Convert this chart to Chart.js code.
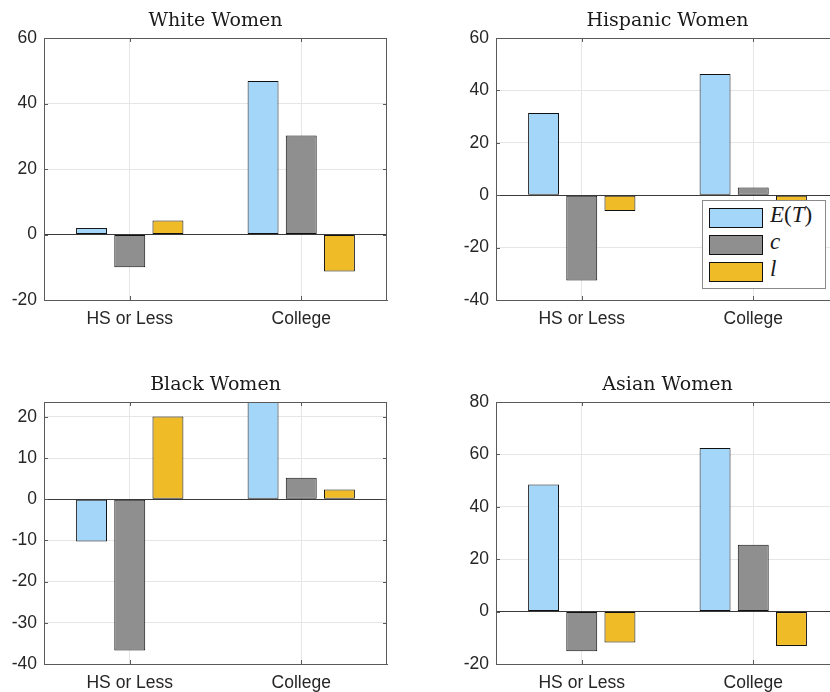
<!DOCTYPE html>
<html>
<head>
<meta charset="utf-8">
<script src="https://cdn.jsdelivr.net/npm/chart.js@4.4.1/dist/chart.umd.min.js"></script>
<style>
  html, body { margin: 0; padding: 0; background: #fff; width: 830px; height: 692px; overflow: hidden; }
  .panel { position: absolute; width: 415px; height: 340px; }
  .panel canvas { width: 415px; height: 340px; }
  #legend { position: absolute; left: 702px; top: 200px; width: 124px; height: 89px;
    border: 1px solid #8a8a8a; background: #fff; box-sizing: border-box; }
  .li { position: absolute; left: 6px; height: 20px; width: 120px; }
  .sw { position: absolute; left: 0; top: 0; width: 54px; height: 20px; border: 1px solid #111; box-sizing: border-box; }
  .lt { position: absolute; left: 61px; top: -6px; font-family: "Liberation Serif", serif; font-size: 23px; color: #1a1a1a; white-space: nowrap; }
</style>
</head>
<body>
<div class="panel" style="left:0px;top:0px"><canvas id="c1" width="415" height="340"></canvas></div>
<div class="panel" style="left:452px;top:0px"><canvas id="c2" width="415" height="340"></canvas></div>
<div class="panel" style="left:0px;top:364px"><canvas id="c3" width="415" height="340"></canvas></div>
<div class="panel" style="left:452px;top:364px"><canvas id="c4" width="415" height="340"></canvas></div>
<div id="legend">
  <div class="li" style="top:7px"><div class="sw" style="background:#A3D6F8"></div><div class="lt"><i>E</i>(<i>T</i>)</div></div>
  <div class="li" style="top:34px"><div class="sw" style="background:#8F8F8F"></div><div class="lt"><i>c</i></div></div>
  <div class="li" style="top:61px"><div class="sw" style="background:#EFBB27"></div><div class="lt"><i>l</i></div></div>
</div>
<script>
// ---- data ----
const categories = ['HS or Less', 'College'];
const seriesNames = ['E(T)', 'c', 'l'];
const seriesColors = ['#A3D6F8', '#8F8F8F', '#EFBB27'];

const whiteET = [2.0, 46.9];
const whiteC  = [-10.0, 30.2];
const whiteL  = [4.3, -11.3];
const whiteTicks = [-20, 0, 20, 40, 60];

const hispET = [31.4, 46.3];
const hispC  = [-32.6, 2.9];
const hispL  = [-6.0, -4.0];
const hispTicks = [-40, -20, 0, 20, 40, 60];

const blackET = [-10.25, 23.6];
const blackC  = [-36.7, 5.2];
const blackL  = [20.1, 2.35];
const blackTicks = [-40, -30, -20, -10, 0, 10, 20];
const blackMax = 23.6;

const asianET = [48.5, 62.4];
const asianC  = [-15.1, 25.5];
const asianL  = [-11.8, -13.1];
const asianTicks = [-20, 0, 20, 40, 60, 80];

const titles = ['White Women', 'Hispanic Women', 'Black Women', 'Asian Women'];

// ---- plugin: box + inward tick marks ----
const AXIS_COLOR = '#5a5a5a';
const boxPlugin = {
  id: 'boxPlugin',
  afterDraw(chart) {
    const ctx = chart.ctx, a = chart.chartArea;
    const ys = chart.scales.y, xs = chart.scales.x;
    ctx.save();
    ctx.strokeStyle = AXIS_COLOR;
    ctx.lineWidth = 1;
    ctx.beginPath();
    const L = 4;
    ys.ticks.forEach(t => {
      const y = Math.round(ys.getPixelForValue(t.value)) + 0.5;
      if (y <= a.top + 1 || y >= a.bottom - 1) return;
      ctx.moveTo(a.left, y); ctx.lineTo(a.left + L, y);
      ctx.moveTo(a.right, y); ctx.lineTo(a.right - L, y);
    });
    xs.ticks.forEach((t, i) => {
      const x = Math.round(xs.getPixelForTick(i)) + 0.5;
      ctx.moveTo(x, a.bottom); ctx.lineTo(x, a.bottom - L);
      ctx.moveTo(x, a.top); ctx.lineTo(x, a.top + L);
    });
    ctx.stroke();
    ctx.strokeRect(Math.round(a.left) + 0.5, Math.round(a.top) + 0.5,
                   Math.round(a.right - a.left) - 1, Math.round(a.bottom - a.top));
    ctx.restore();
  }
};

function makeChart(id, title, et, c, l, yMin, yMax, yTicks) {
  const values = [et, c, l];
  return new Chart(document.getElementById(id), {
    type: 'bar',
    data: {
      labels: categories,
      datasets: seriesNames.map((name, i) => ({
        label: name,
        data: values[i],
        backgroundColor: seriesColors[i],
        borderColor: '#111111',
        borderWidth: 1,
        borderSkipped: false,
        categoryPercentage: 0.668,
        barPercentage: 0.81
      }))
    },
    options: {
      responsive: false,
      animation: false,
      devicePixelRatio: 1,
      layout: { padding: { left: 0, right: 28, top: 0, bottom: 0 } },
      plugins: {
        legend: { display: false },
        tooltip: { enabled: false },
        title: {
          display: true,
          text: title,
          fullSize: false,
          color: '#1a1a1a',
          font: { family: 'DejaVu Serif', size: 19, weight: 'normal', lineHeight: 1.2 },
          padding: { top: 10, bottom: 5.2 }
        }
      },
      scales: {
        x: {
          grid: { offset: false, drawTicks: false, color: '#e6e6e6' },
          border: { display: true, color: AXIS_COLOR },
          ticks: { color: '#262626', font: { family: 'Liberation Sans', size: 17.5 }, padding: 9, maxRotation: 0 },
          afterFit(s) { s.height = 40; }
        },
        y: {
          min: yMin, max: yMax,
          afterBuildTicks(s) { s.ticks = yTicks.map(v => ({ value: v })); },
          grid: {
            drawTicks: false,
            color: ctx => (ctx.tick && ctx.tick.value === 0) ? '#3a3a3a' : '#e6e6e6'
          },
          border: { display: true, color: AXIS_COLOR },
          ticks: { color: '#262626', font: { family: 'Liberation Sans', size: 17.5 }, padding: 7 },
          afterFit(s) { s.width = 44; }
        }
      }
    },
    plugins: [boxPlugin]
  });
}

makeChart('c1', titles[0], whiteET, whiteC, whiteL, -20, 60, whiteTicks);
makeChart('c2', titles[1], hispET, hispC, hispL, -40, 60, hispTicks);
makeChart('c3', titles[2], blackET, blackC, blackL, -40, blackMax, blackTicks);
makeChart('c4', titles[3], asianET, asianC, asianL, -20, 80, asianTicks);
</script>
</body>
</html>
